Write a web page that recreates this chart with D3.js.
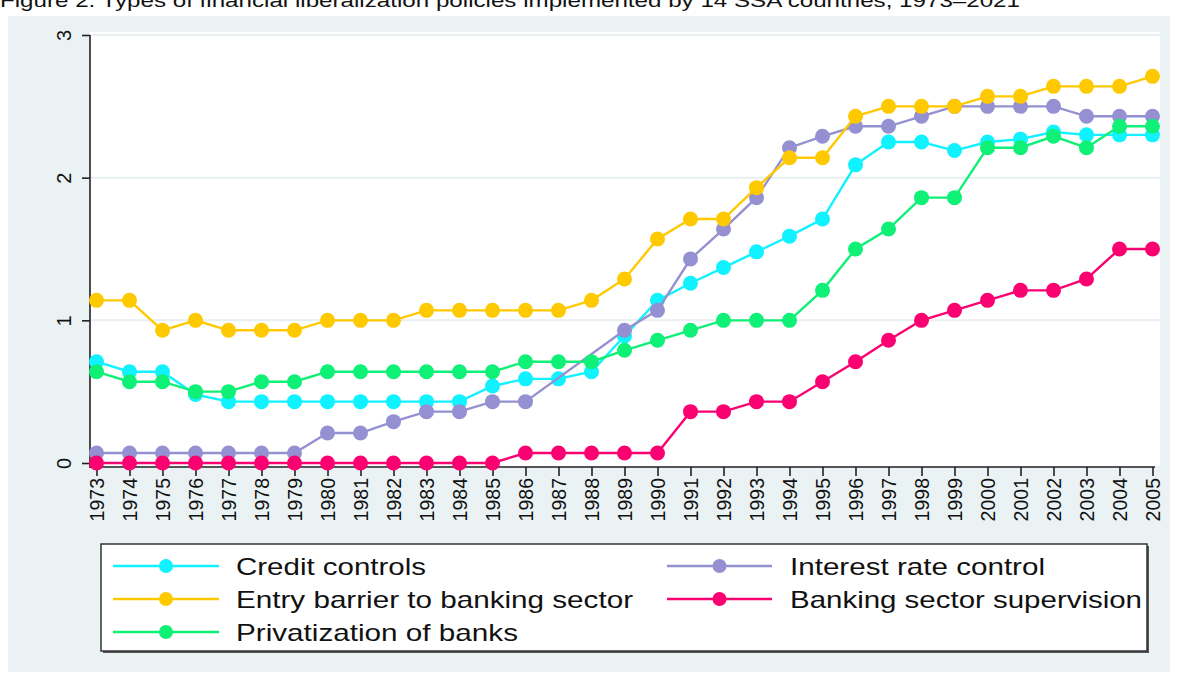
<!DOCTYPE html>
<meta charset="utf-8">

<style>
  body { margin: 0; background: #ffffff; }
  #my_dataviz { width: 1178px; height: 676px; overflow: hidden; }
  text { font-family: "Liberation Sans", Arial, sans-serif; }
</style>

<!-- Load d3.js -->
<script src="https://d3js.org/d3.v7.min.js"></script>

<!-- Create a div where the graph will take place -->
<div id="my_dataviz"></div>

<script>
// data (share of 14 countries, per year)
var years = d3.range(1973, 2006)
var yTicks = [0, 1, 2, 3]

var credit = [0.71, 0.64, 0.64, 0.48, 0.43, 0.43, 0.43, 0.43, 0.43, 0.43, 0.43, 0.43,
  0.54, 0.59, 0.59, 0.64, 0.89, 1.14, 1.26, 1.37, 1.48, 1.59, 1.71, 2.09, 2.25, 2.25,
  2.19, 2.25, 2.27, 2.32, 2.30, 2.30, 2.30]
var interest = [0.07, 0.07, 0.07, 0.07, 0.07, 0.07, 0.07, 0.21, 0.21, 0.29, 0.36, 0.36,
  0.43, 0.43, null, null, 0.93, 1.07, 1.43, 1.64, 1.86, 2.21, 2.29, 2.36, 2.36, 2.43,
  2.5, 2.5, 2.5, 2.5, 2.43, 2.43, 2.43]
var entry = [1.14, 1.14, 0.93, 1.0, 0.93, 0.93, 0.93, 1.0, 1.0, 1.0, 1.07, 1.07, 1.07,
  1.07, 1.07, 1.14, 1.29, 1.57, 1.71, 1.71, 1.93, 2.14, 2.14, 2.43, 2.5, 2.5, 2.5,
  2.57, 2.57, 2.64, 2.64, 2.64, 2.71]
var supervision = [0, 0, 0, 0, 0, 0, 0, 0, 0, 0, 0, 0, 0, 0.07, 0.07, 0.07, 0.07, 0.07,
  0.36, 0.36, 0.43, 0.43, 0.57, 0.71, 0.86, 1.0, 1.07, 1.14, 1.21, 1.21, 1.29, 1.5, 1.5]
var privatization = [0.64, 0.57, 0.57, 0.5, 0.5, 0.57, 0.57, 0.64, 0.64, 0.64, 0.64,
  0.64, 0.64, 0.71, 0.71, 0.71, 0.79, 0.86, 0.93, 1.0, 1.0, 1.0, 1.21, 1.5, 1.64, 1.86,
  1.86, 2.21, 2.21, 2.29, 2.21, 2.36, 2.36]

var seriesNames = ["Credit controls", "Interest rate control", "Entry barrier to banking sector",
  "Banking sector supervision", "Privatization of banks"]
var seriesValues = [credit, interest, entry, supervision, privatization]
var seriesColors = ["#10f2ff", "#9490d2", "#ffc900", "#fb0071", "#0ef076"]

var titleText = "Figure 2. Types of financial liberalization policies implemented by 14 SSA countries, 1973\u20132021"

// svg
var svg = d3.select("#my_dataviz")
  .append("svg")
  .attr("width", 1178)
  .attr("height", 676)

// title, its top half is cut off in the original
svg.append("text")
  .attr("x", 0)
  .attr("y", 7)
  .attr("textLength", 1020)
  .attr("lengthAdjust", "spacingAndGlyphs")
  .style("font-size", "19px")
  .style("fill", "#111")
  .text(titleText)

// grey graph region
svg.append("rect")
  .attr("x", 8).attr("y", 16)
  .attr("width", 1162).attr("height", 656)
  .style("fill", "#eaf2f3")

// white plot region
svg.append("rect")
  .attr("x", 90).attr("y", 32)
  .attr("width", 1070).attr("height", 434)
  .style("fill", "#ffffff")

// scales
var x = d3.scaleLinear()
  .domain([1973, 2005])
  .range([96.5, 1152.5])

var y = d3.scaleLinear()
  .domain([0, 3])
  .range([463, 35])

// gridlines
svg.append("g")
  .selectAll("line")
  .data(yTicks.filter(function(d){ return d > 0 }))
  .enter()
  .append("line")
    .attr("x1", 91).attr("x2", 1160)
    .attr("y1", function(d){ return y(d) })
    .attr("y2", function(d){ return y(d) })
    .style("stroke", "#e7eff1")
    .style("stroke-width", 2)

// y axis
var yAxis = svg.append("g")
  .attr("transform", "translate(90,0)")
  .call(d3.axisLeft(y).tickValues(yTicks).tickSize(8).tickFormat(d3.format("d")))
yAxis.select(".domain").attr("d", "M0," + y(3) + "V" + 468).style("stroke", "#222").style("stroke-width", 1.6)
yAxis.selectAll(".tick line").style("stroke", "#222").style("stroke-width", 1.6)
yAxis.selectAll(".tick text")
  .attr("x", 0).attr("y", 0).attr("dy", 0)
  .attr("transform", "translate(-19,0)rotate(-90)")
  .style("text-anchor", "middle")
  .style("font-size", "20px")
  .style("fill", "#111")
  .style("font-family", "Liberation Sans, Arial, sans-serif")

// x axis
var xAxis = svg.append("g")
  .attr("transform", "translate(0,467)")
  .call(d3.axisBottom(x).tickValues(years).tickSize(9).tickFormat(d3.format("d")))
xAxis.select(".domain").attr("d", "M90,0H1155").style("stroke", "#222").style("stroke-width", 1.6)
xAxis.selectAll(".tick line").style("stroke", "#222").style("stroke-width", 1.6)
xAxis.selectAll(".tick text")
  .attr("x", 0).attr("y", 0).attr("dy", 0)
  .attr("transform", "translate(7,11)rotate(-90)")
  .style("text-anchor", "end")
  .style("font-size", "19.5px")
  .style("fill", "#111")
  .style("font-family", "Liberation Sans, Arial, sans-serif")

// lines and markers, drawn in series order
var line = d3.line()
  .defined(function(d){ return d.v !== null })
  .x(function(d){ return x(d.year) })
  .y(function(d){ return y(d.v) })

seriesValues.forEach(function(vals, k) {
  var pts = years.map(function(yr, i){ return {year: yr, v: vals[i]} })
    .filter(function(d){ return d.v !== null })
  var g = svg.append("g")
  g.append("path")
    .datum(pts)
    .attr("d", line)
    .style("fill", "none")
    .style("stroke", seriesColors[k])
    .style("stroke-width", 2.4)
  g.selectAll("circle")
    .data(pts)
    .enter()
    .append("circle")
      .attr("cx", function(d){ return x(d.year) })
      .attr("cy", function(d){ return y(d.v) })
      .attr("r", 7.5)
      .style("fill", seriesColors[k])
})

// legend box
var legend = svg.append("g")
legend.append("rect")
  .attr("x", 103).attr("y", 546)
  .attr("width", 1046).attr("height", 107)
  .style("fill", "#555")
legend.append("rect")
  .attr("x", 101).attr("y", 544)
  .attr("width", 1046).attr("height", 107)
  .style("fill", "#ffffff")
  .style("stroke", "#333")
  .style("stroke-width", 1.5)

// legend keys: filled row by row, two columns
var legendRows = [566, 599, 632]
var legendCols = [{l: 113, r: 219, t: 236}, {l: 667, r: 772, t: 790}]
var legendWidths = [190, 255, 397, 352, 282]

seriesNames.forEach(function(name, k) {
  var col = legendCols[k % 2], ry = legendRows[Math.floor(k / 2)]
  legend.append("line")
    .attr("x1", col.l).attr("x2", col.r)
    .attr("y1", ry).attr("y2", ry)
    .style("stroke", seriesColors[k])
    .style("stroke-width", 2.4)
  legend.append("circle")
    .attr("cx", (col.l + col.r) / 2).attr("cy", ry)
    .attr("r", 7)
    .style("fill", seriesColors[k])
  legend.append("text")
    .attr("x", col.t).attr("y", ry + 9)
    .attr("textLength", legendWidths[k])
    .attr("lengthAdjust", "spacingAndGlyphs")
    .style("font-size", "24px")
    .style("fill", "#111")
    .text(name)
})
</script>
